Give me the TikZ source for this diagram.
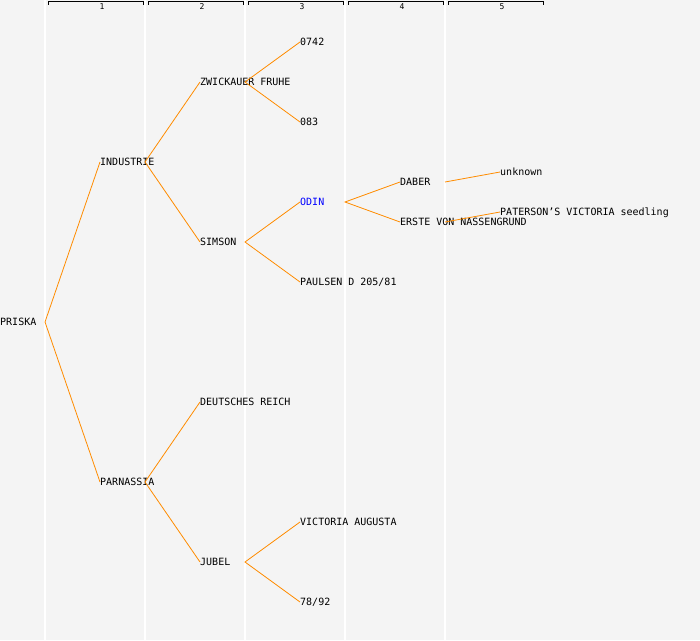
\documentclass[tikz,border=0pt]{standalone}
\usepackage{fontspec}
\setmonofont{DejaVu Sans Mono}
\usetikzlibrary{positioning}
\tikzset{cult/.style = {anchor=west, inner sep=0, text height=7.3pt, text depth=0pt,
                        font=\ttfamily\fontsize{10}{10}\selectfont}}
\tikzset{link/.style = {draw=morange, line width=0.8}}
\tikzset{colline/.style = {draw=white, line width=1.3}}
\tikzset{gen/.style = {inner sep=0, font=\ttfamily\fontsize{8}{8}\selectfont}}
\definecolor{morange}{rgb}{1, 0.55, 0}
\definecolor{mgrey}{rgb}{0.957, 0.957, 0.957}
\definecolor{mblue}{rgb}{0, 0, 1}

\begin{document}
\begin{tikzpicture}[x=1pt, y=-1pt]
    \fill [mgrey] (0, 0) rectangle (700, 640);
    \useasboundingbox (0, 0) rectangle (700, 640);

    \foreach \x in {45, 145, 245, 345, 445}
      \draw [colline] (\x, 0) -- (\x, 640);

    \foreach \n in {1, ..., 5} {
      \draw [line width=0.8] (\n*100-52, 4.5) -- (\n*100-52, 1.5) -- (\n*100+43, 1.5) -- (\n*100+43, 4.5);
      \node (gen\n) [gen] at (\n*100+2, 6.5) {\n};
    }

    \node (priska) at (0, 322) [cult] {PRISKA};
    \coordinate (priska-f) at (45, 322);

    \node (industrie) at (100, 162) [cult] {INDUSTRIE};
    \coordinate (industrie-f) at (145, 162);
    \node (parnassia) at (100, 482) [cult] {PARNASSIA};
    \coordinate (parnassia-f) at (145, 482);

    \node (zwickauer) at (200, 82) [cult] {ZWICKAUER FRUHE};
    \coordinate (zwickauer-f) at (245, 82);
    \node (simson) at (200, 242) [cult] {SIMSON};
    \coordinate (simson-f) at (245, 242);
    \node (deutsches) at (200, 402) [cult] {DEUTSCHES REICH};
    \node (jubel) at (200, 562) [cult] {JUBEL};
    \coordinate (jubel-f) at (245, 562);

    \node (s0742) at (300, 42) [cult] {0742};
    \node (s083) at (300, 122) [cult] {083};
    \node (odin) at (300, 202) [cult, text=mblue] {ODIN};
    \coordinate (odin-f) at (345, 202);
    \node (paulsen) at (300, 282) [cult] {PAULSEN D 205/81};
    \node (victoria) at (300, 522) [cult] {VICTORIA AUGUSTA};
    \node (s7892) at (300, 602) [cult] {78/92};

    \node (daber) at (400, 182) [cult] {DABER};
    \coordinate (daber-f) at (445, 182);
    \node (erste) at (400, 222) [cult] {ERSTE VON NASSENGRUND};
    \coordinate (erste-f) at (445, 222);

    \node (unknown) at (500, 172) [cult] {unknown};
    \node (paterson) at (500, 212) [cult] {PATERSON’S VICTORIA seedling};

    \draw [link] (industrie.west) -- (priska-f) -- (parnassia.west);
    \draw [link] (zwickauer.west) -- (industrie-f) -- (simson.west);
    \draw [link] (deutsches.west) -- (parnassia-f) -- (jubel.west);
    \draw [link] (s0742.west) -- (zwickauer-f) -- (s083.west);
    \draw [link] (odin.west) -- (simson-f) -- (paulsen.west);
    \draw [link] (victoria.west) -- (jubel-f) -- (s7892.west);
    \draw [link] (daber.west) -- (odin-f) -- (erste.west);
    \draw [link] (daber-f) -- (unknown.west);
    \draw [link] (erste-f) -- (paterson.west);

  \end{tikzpicture}
\end{document}
